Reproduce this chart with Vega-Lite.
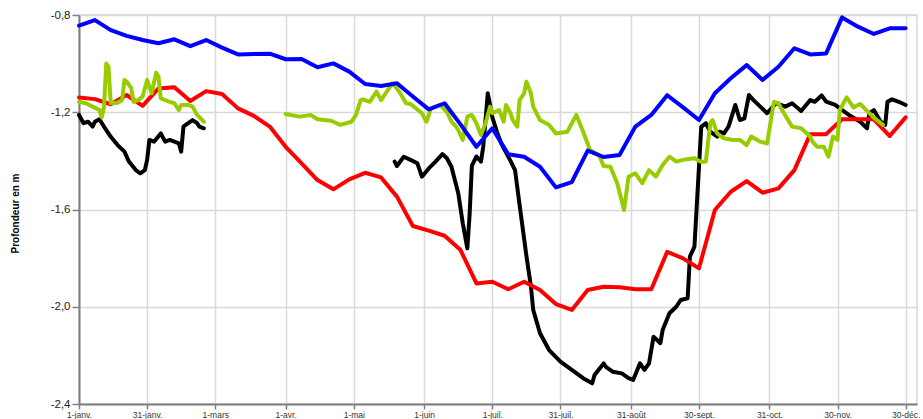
{
"$schema": "https://vega.github.io/schema/vega-lite/v6.json",
"width": 838, "height": 389,
"autosize": {"type": "none"},
"padding": {"left": 79, "top": 15, "right": 6, "bottom": 15},
"background": "white",
"config": {"view": {"stroke": "#d9d9d9", "strokeWidth": 1.5}, "font": "Liberation Sans"},
"data": {"values": [
{"s":"noir","date":"2020-01-01","v":-1.211},{"s":"noir","date":"2020-01-03","v":-1.245},{"s":"noir","date":"2020-01-05","v":-1.239},{"s":"noir","date":"2020-01-07","v":-1.259},{"s":"noir","date":"2020-01-08","v":-1.239},{"s":"noir","date":"2020-01-10","v":-1.229},{"s":"noir","date":"2020-01-12","v":-1.259},{"s":"noir","date":"2020-01-15","v":-1.301},{"s":"noir","date":"2020-01-18","v":-1.335},{"s":"noir","date":"2020-01-21","v":-1.362},{"s":"noir","date":"2020-01-23","v":-1.403},{"s":"noir","date":"2020-01-26","v":-1.438},{"s":"noir","date":"2020-01-28","v":-1.451},{"s":"noir","date":"2020-01-30","v":-1.438},{"s":"noir","date":"2020-01-31","v":-1.396},{"s":"noir","date":"2020-02-01","v":-1.314},{"s":"noir","date":"2020-02-03","v":-1.321},{"s":"noir","date":"2020-02-06","v":-1.287},{"s":"noir","date":"2020-02-08","v":-1.321},{"s":"noir","date":"2020-02-10","v":-1.314},{"s":"noir","date":"2020-02-14","v":-1.328},{"s":"noir","date":"2020-02-15","v":-1.362},{"s":"noir","date":"2020-02-16","v":-1.259},{"s":"noir","date":"2020-02-17","v":-1.252},{"s":"noir","date":"2020-02-20","v":-1.232},{"s":"noir","date":"2020-02-22","v":-1.245},{"s":"noir","date":"2020-02-23","v":-1.259},{"s":"noir","date":"2020-02-25","v":-1.266},
{"s":"noir","date":"2020-03-20","v":null},
{"s":"noir","date":"2020-05-19","v":-1.403},{"s":"noir","date":"2020-05-20","v":-1.421},{"s":"noir","date":"2020-05-23","v":-1.383},{"s":"noir","date":"2020-05-26","v":-1.396},{"s":"noir","date":"2020-05-29","v":-1.41},{"s":"noir","date":"2020-05-31","v":-1.465},{"s":"noir","date":"2020-06-03","v":-1.431},{"s":"noir","date":"2020-06-06","v":-1.403},{"s":"noir","date":"2020-06-09","v":-1.372},{"s":"noir","date":"2020-06-11","v":-1.389},{"s":"noir","date":"2020-06-13","v":-1.424},{"s":"noir","date":"2020-06-16","v":-1.533},{"s":"noir","date":"2020-06-18","v":-1.657},{"s":"noir","date":"2020-06-20","v":-1.76},{"s":"noir","date":"2020-06-21","v":-1.62},{"s":"noir","date":"2020-06-22","v":-1.42},{"s":"noir","date":"2020-06-24","v":-1.382},{"s":"noir","date":"2020-06-26","v":-1.403},{"s":"noir","date":"2020-06-27","v":-1.342},{"s":"noir","date":"2020-06-29","v":-1.122},{"s":"noir","date":"2020-06-30","v":-1.17},{"s":"noir","date":"2020-07-01","v":-1.22},{"s":"noir","date":"2020-07-03","v":-1.28},{"s":"noir","date":"2020-07-05","v":-1.33},{"s":"noir","date":"2020-07-09","v":-1.4},{"s":"noir","date":"2020-07-11","v":-1.438},{"s":"noir","date":"2020-07-13","v":-1.58},{"s":"noir","date":"2020-07-16","v":-1.79},{"s":"noir","date":"2020-07-18","v":-1.917},{"s":"noir","date":"2020-07-19","v":-2.013},{"s":"noir","date":"2020-07-22","v":-2.109},{"s":"noir","date":"2020-07-26","v":-2.178},{"s":"noir","date":"2020-07-31","v":-2.226},{"s":"noir","date":"2020-08-05","v":-2.26},{"s":"noir","date":"2020-08-10","v":-2.294},{"s":"noir","date":"2020-08-14","v":-2.315},{"s":"noir","date":"2020-08-15","v":-2.281},{"s":"noir","date":"2020-08-19","v":-2.233},{"s":"noir","date":"2020-08-20","v":-2.247},{"s":"noir","date":"2020-08-23","v":-2.267},{"s":"noir","date":"2020-08-27","v":-2.274},{"s":"noir","date":"2020-08-30","v":-2.294},{"s":"noir","date":"2020-09-01","v":-2.301},{"s":"noir","date":"2020-09-04","v":-2.233},{"s":"noir","date":"2020-09-06","v":-2.26},{"s":"noir","date":"2020-09-08","v":-2.233},{"s":"noir","date":"2020-09-10","v":-2.123},{"s":"noir","date":"2020-09-13","v":-2.15},{"s":"noir","date":"2020-09-14","v":-2.096},{"s":"noir","date":"2020-09-17","v":-2.027},{"s":"noir","date":"2020-09-20","v":-2.0},{"s":"noir","date":"2020-09-22","v":-1.972},{"s":"noir","date":"2020-09-25","v":-1.965},{"s":"noir","date":"2020-09-26","v":-1.794},{"s":"noir","date":"2020-09-28","v":-1.753},{"s":"noir","date":"2020-09-30","v":-1.424},{"s":"noir","date":"2020-10-01","v":-1.26},{"s":"noir","date":"2020-10-03","v":-1.245},{"s":"noir","date":"2020-10-05","v":-1.28},{"s":"noir","date":"2020-10-08","v":-1.3},{"s":"noir","date":"2020-10-09","v":-1.28},{"s":"noir","date":"2020-10-11","v":-1.287},{"s":"noir","date":"2020-10-13","v":-1.259},{"s":"noir","date":"2020-10-16","v":-1.17},{"s":"noir","date":"2020-10-18","v":-1.232},{"s":"noir","date":"2020-10-20","v":-1.225},{"s":"noir","date":"2020-10-22","v":-1.129},{"s":"noir","date":"2020-10-24","v":-1.15},{"s":"noir","date":"2020-10-27","v":-1.177},{"s":"noir","date":"2020-10-30","v":-1.204},{"s":"noir","date":"2020-11-03","v":-1.162},{"s":"noir","date":"2020-11-07","v":-1.177},{"s":"noir","date":"2020-11-10","v":-1.163},{"s":"noir","date":"2020-11-14","v":-1.195},{"s":"noir","date":"2020-11-18","v":-1.15},{"s":"noir","date":"2020-11-20","v":-1.157},{"s":"noir","date":"2020-11-23","v":-1.131},{"s":"noir","date":"2020-11-25","v":-1.156},{"s":"noir","date":"2020-11-29","v":-1.17},{"s":"noir","date":"2020-12-01","v":-1.184},{"s":"noir","date":"2020-12-05","v":-1.211},{"s":"noir","date":"2020-12-10","v":-1.239},{"s":"noir","date":"2020-12-13","v":-1.266},{"s":"noir","date":"2020-12-14","v":-1.204},{"s":"noir","date":"2020-12-16","v":-1.191},{"s":"noir","date":"2020-12-19","v":-1.239},{"s":"noir","date":"2020-12-21","v":-1.252},{"s":"noir","date":"2020-12-22","v":-1.157},{"s":"noir","date":"2020-12-24","v":-1.147},{"s":"noir","date":"2020-12-27","v":-1.157},{"s":"noir","date":"2020-12-30","v":-1.17},
{"s":"rouge","date":"2020-01-01","v":-1.139},{"s":"rouge","date":"2020-01-08","v":-1.146},{"s":"rouge","date":"2020-01-15","v":-1.167},{"s":"rouge","date":"2020-01-22","v":-1.129},{"s":"rouge","date":"2020-01-29","v":-1.174},{"s":"rouge","date":"2020-02-05","v":-1.102},{"s":"rouge","date":"2020-02-12","v":-1.097},{"s":"rouge","date":"2020-02-19","v":-1.154},{"s":"rouge","date":"2020-02-26","v":-1.113},{"s":"rouge","date":"2020-03-04","v":-1.125},{"s":"rouge","date":"2020-03-11","v":-1.184},{"s":"rouge","date":"2020-03-18","v":-1.215},{"s":"rouge","date":"2020-03-25","v":-1.259},{"s":"rouge","date":"2020-04-01","v":-1.342},{"s":"rouge","date":"2020-04-08","v":-1.41},{"s":"rouge","date":"2020-04-15","v":-1.479},{"s":"rouge","date":"2020-04-22","v":-1.517},{"s":"rouge","date":"2020-04-29","v":-1.476},{"s":"rouge","date":"2020-05-06","v":-1.449},{"s":"rouge","date":"2020-05-13","v":-1.468},{"s":"rouge","date":"2020-05-20","v":-1.547},{"s":"rouge","date":"2020-05-27","v":-1.668},{"s":"rouge","date":"2020-06-03","v":-1.687},{"s":"rouge","date":"2020-06-10","v":-1.708},{"s":"rouge","date":"2020-06-17","v":-1.767},{"s":"rouge","date":"2020-06-24","v":-1.904},{"s":"rouge","date":"2020-07-01","v":-1.897},{"s":"rouge","date":"2020-07-08","v":-1.928},{"s":"rouge","date":"2020-07-15","v":-1.897},{"s":"rouge","date":"2020-07-22","v":-1.931},{"s":"rouge","date":"2020-07-29","v":-1.989},{"s":"rouge","date":"2020-08-05","v":-2.013},{"s":"rouge","date":"2020-08-12","v":-1.931},{"s":"rouge","date":"2020-08-19","v":-1.918},{"s":"rouge","date":"2020-08-26","v":-1.92},{"s":"rouge","date":"2020-09-02","v":-1.928},{"s":"rouge","date":"2020-09-09","v":-1.928},{"s":"rouge","date":"2020-09-16","v":-1.774},{"s":"rouge","date":"2020-09-23","v":-1.801},{"s":"rouge","date":"2020-09-30","v":-1.842},{"s":"rouge","date":"2020-10-07","v":-1.602},{"s":"rouge","date":"2020-10-14","v":-1.527},{"s":"rouge","date":"2020-10-21","v":-1.483},{"s":"rouge","date":"2020-10-28","v":-1.531},{"s":"rouge","date":"2020-11-04","v":-1.513},{"s":"rouge","date":"2020-11-11","v":-1.438},{"s":"rouge","date":"2020-11-18","v":-1.29},{"s":"rouge","date":"2020-11-25","v":-1.29},{"s":"rouge","date":"2020-12-02","v":-1.229},{"s":"rouge","date":"2020-12-09","v":-1.229},{"s":"rouge","date":"2020-12-16","v":-1.229},{"s":"rouge","date":"2020-12-23","v":-1.298},{"s":"rouge","date":"2020-12-30","v":-1.221},
{"s":"vert","date":"2020-01-01","v":-1.157},{"s":"vert","date":"2020-01-04","v":-1.163},{"s":"vert","date":"2020-01-07","v":-1.177},{"s":"vert","date":"2020-01-10","v":-1.191},{"s":"vert","date":"2020-01-11","v":-1.221},{"s":"vert","date":"2020-01-12","v":-1.18},{"s":"vert","date":"2020-01-13","v":-1.0},{"s":"vert","date":"2020-01-14","v":-1.013},{"s":"vert","date":"2020-01-15","v":-1.163},{"s":"vert","date":"2020-01-18","v":-1.161},{"s":"vert","date":"2020-01-20","v":-1.15},{"s":"vert","date":"2020-01-21","v":-1.067},{"s":"vert","date":"2020-01-22","v":-1.074},{"s":"vert","date":"2020-01-24","v":-1.101},{"s":"vert","date":"2020-01-25","v":-1.157},{"s":"vert","date":"2020-01-27","v":-1.15},{"s":"vert","date":"2020-01-29","v":-1.136},{"s":"vert","date":"2020-01-31","v":-1.067},{"s":"vert","date":"2020-02-01","v":-1.095},{"s":"vert","date":"2020-02-02","v":-1.122},{"s":"vert","date":"2020-02-04","v":-1.037},{"s":"vert","date":"2020-02-05","v":-1.054},{"s":"vert","date":"2020-02-06","v":-1.143},{"s":"vert","date":"2020-02-10","v":-1.157},{"s":"vert","date":"2020-02-12","v":-1.163},{"s":"vert","date":"2020-02-14","v":-1.191},{"s":"vert","date":"2020-02-15","v":-1.17},{"s":"vert","date":"2020-02-18","v":-1.17},{"s":"vert","date":"2020-02-20","v":-1.177},{"s":"vert","date":"2020-02-22","v":-1.211},{"s":"vert","date":"2020-02-25","v":-1.239},
{"s":"vert","date":"2020-03-15","v":null},
{"s":"vert","date":"2020-04-01","v":-1.207},{"s":"vert","date":"2020-04-07","v":-1.218},{"s":"vert","date":"2020-04-12","v":-1.211},{"s":"vert","date":"2020-04-15","v":-1.229},{"s":"vert","date":"2020-04-21","v":-1.235},{"s":"vert","date":"2020-04-25","v":-1.252},{"s":"vert","date":"2020-04-30","v":-1.239},{"s":"vert","date":"2020-05-02","v":-1.211},{"s":"vert","date":"2020-05-04","v":-1.15},{"s":"vert","date":"2020-05-05","v":-1.147},{"s":"vert","date":"2020-05-08","v":-1.157},{"s":"vert","date":"2020-05-11","v":-1.115},{"s":"vert","date":"2020-05-13","v":-1.15},{"s":"vert","date":"2020-05-15","v":-1.122},{"s":"vert","date":"2020-05-18","v":-1.081},{"s":"vert","date":"2020-05-21","v":-1.115},{"s":"vert","date":"2020-05-24","v":-1.163},{"s":"vert","date":"2020-05-26","v":-1.166},{"s":"vert","date":"2020-05-31","v":-1.204},{"s":"vert","date":"2020-06-02","v":-1.239},{"s":"vert","date":"2020-06-04","v":-1.184},{"s":"vert","date":"2020-06-08","v":-1.17},{"s":"vert","date":"2020-06-11","v":-1.199},{"s":"vert","date":"2020-06-13","v":-1.239},{"s":"vert","date":"2020-06-15","v":-1.259},{"s":"vert","date":"2020-06-16","v":-1.273},{"s":"vert","date":"2020-06-18","v":-1.314},{"s":"vert","date":"2020-06-20","v":-1.218},{"s":"vert","date":"2020-06-22","v":-1.211},{"s":"vert","date":"2020-06-24","v":-1.245},{"s":"vert","date":"2020-06-26","v":-1.294},{"s":"vert","date":"2020-06-28","v":-1.245},{"s":"vert","date":"2020-06-30","v":-1.177},{"s":"vert","date":"2020-07-01","v":-1.204},{"s":"vert","date":"2020-07-04","v":-1.191},{"s":"vert","date":"2020-07-06","v":-1.239},{"s":"vert","date":"2020-07-07","v":-1.17},{"s":"vert","date":"2020-07-09","v":-1.204},{"s":"vert","date":"2020-07-10","v":-1.232},{"s":"vert","date":"2020-07-12","v":-1.259},{"s":"vert","date":"2020-07-13","v":-1.15},{"s":"vert","date":"2020-07-15","v":-1.122},{"s":"vert","date":"2020-07-16","v":-1.074},{"s":"vert","date":"2020-07-18","v":-1.122},{"s":"vert","date":"2020-07-19","v":-1.177},{"s":"vert","date":"2020-07-22","v":-1.232},{"s":"vert","date":"2020-07-26","v":-1.252},{"s":"vert","date":"2020-07-29","v":-1.287},{"s":"vert","date":"2020-08-03","v":-1.28},{"s":"vert","date":"2020-08-07","v":-1.211},{"s":"vert","date":"2020-08-10","v":-1.28},{"s":"vert","date":"2020-08-13","v":-1.355},{"s":"vert","date":"2020-08-17","v":-1.376},{"s":"vert","date":"2020-08-19","v":-1.421},{"s":"vert","date":"2020-08-22","v":-1.424},{"s":"vert","date":"2020-08-25","v":-1.492},{"s":"vert","date":"2020-08-28","v":-1.602},{"s":"vert","date":"2020-08-30","v":-1.465},{"s":"vert","date":"2020-09-02","v":-1.451},{"s":"vert","date":"2020-09-05","v":-1.492},{"s":"vert","date":"2020-09-08","v":-1.438},{"s":"vert","date":"2020-09-11","v":-1.465},{"s":"vert","date":"2020-09-14","v":-1.417},{"s":"vert","date":"2020-09-17","v":-1.383},{"s":"vert","date":"2020-09-20","v":-1.403},{"s":"vert","date":"2020-09-24","v":-1.394},{"s":"vert","date":"2020-09-28","v":-1.389},{"s":"vert","date":"2020-10-01","v":-1.405},{"s":"vert","date":"2020-10-03","v":-1.403},{"s":"vert","date":"2020-10-05","v":-1.245},{"s":"vert","date":"2020-10-06","v":-1.232},{"s":"vert","date":"2020-10-08","v":-1.287},{"s":"vert","date":"2020-10-11","v":-1.307},{"s":"vert","date":"2020-10-15","v":-1.314},{"s":"vert","date":"2020-10-18","v":-1.314},{"s":"vert","date":"2020-10-21","v":-1.335},{"s":"vert","date":"2020-10-23","v":-1.3},{"s":"vert","date":"2020-10-27","v":-1.321},{"s":"vert","date":"2020-10-30","v":-1.328},{"s":"vert","date":"2020-11-02","v":-1.157},{"s":"vert","date":"2020-11-04","v":-1.163},{"s":"vert","date":"2020-11-06","v":-1.198},{"s":"vert","date":"2020-11-10","v":-1.259},{"s":"vert","date":"2020-11-14","v":-1.266},{"s":"vert","date":"2020-11-18","v":-1.3},{"s":"vert","date":"2020-11-19","v":-1.321},{"s":"vert","date":"2020-11-21","v":-1.342},{"s":"vert","date":"2020-11-24","v":-1.342},{"s":"vert","date":"2020-11-26","v":-1.383},{"s":"vert","date":"2020-11-28","v":-1.3},{"s":"vert","date":"2020-11-30","v":-1.314},{"s":"vert","date":"2020-12-01","v":-1.191},{"s":"vert","date":"2020-12-04","v":-1.139},{"s":"vert","date":"2020-12-07","v":-1.18},{"s":"vert","date":"2020-12-10","v":-1.166},{"s":"vert","date":"2020-12-13","v":-1.195},{"s":"vert","date":"2020-12-16","v":-1.222},{"s":"vert","date":"2020-12-20","v":-1.252},
{"s":"bleu","date":"2020-01-01","v":-0.844},{"s":"bleu","date":"2020-01-08","v":-0.821},{"s":"bleu","date":"2020-01-15","v":-0.862},{"s":"bleu","date":"2020-01-22","v":-0.886},{"s":"bleu","date":"2020-01-29","v":-0.903},{"s":"bleu","date":"2020-02-05","v":-0.916},{"s":"bleu","date":"2020-02-12","v":-0.9},{"s":"bleu","date":"2020-02-19","v":-0.928},{"s":"bleu","date":"2020-02-26","v":-0.903},{"s":"bleu","date":"2020-03-04","v":-0.934},{"s":"bleu","date":"2020-03-11","v":-0.962},{"s":"bleu","date":"2020-03-18","v":-0.96},{"s":"bleu","date":"2020-03-25","v":-0.959},{"s":"bleu","date":"2020-04-01","v":-0.982},{"s":"bleu","date":"2020-04-08","v":-0.981},{"s":"bleu","date":"2020-04-15","v":-1.015},{"s":"bleu","date":"2020-04-22","v":-0.999},{"s":"bleu","date":"2020-04-29","v":-1.033},{"s":"bleu","date":"2020-05-06","v":-1.084},{"s":"bleu","date":"2020-05-13","v":-1.092},{"s":"bleu","date":"2020-05-20","v":-1.081},{"s":"bleu","date":"2020-05-27","v":-1.135},{"s":"bleu","date":"2020-06-03","v":-1.188},{"s":"bleu","date":"2020-06-10","v":-1.163},{"s":"bleu","date":"2020-06-17","v":-1.25},{"s":"bleu","date":"2020-06-24","v":-1.342},{"s":"bleu","date":"2020-07-01","v":-1.266},{"s":"bleu","date":"2020-07-08","v":-1.373},{"s":"bleu","date":"2020-07-15","v":-1.383},{"s":"bleu","date":"2020-07-22","v":-1.424},{"s":"bleu","date":"2020-07-29","v":-1.509},{"s":"bleu","date":"2020-08-05","v":-1.487},{"s":"bleu","date":"2020-08-12","v":-1.358},{"s":"bleu","date":"2020-08-19","v":-1.384},{"s":"bleu","date":"2020-08-26","v":-1.376},{"s":"bleu","date":"2020-09-02","v":-1.259},{"s":"bleu","date":"2020-09-09","v":-1.211},{"s":"bleu","date":"2020-09-16","v":-1.13},{"s":"bleu","date":"2020-09-23","v":-1.18},{"s":"bleu","date":"2020-09-30","v":-1.232},{"s":"bleu","date":"2020-10-07","v":-1.122},{"s":"bleu","date":"2020-10-14","v":-1.06},{"s":"bleu","date":"2020-10-21","v":-1.006},{"s":"bleu","date":"2020-10-28","v":-1.067},{"s":"bleu","date":"2020-11-04","v":-1.013},{"s":"bleu","date":"2020-11-11","v":-0.937},{"s":"bleu","date":"2020-11-18","v":-0.962},{"s":"bleu","date":"2020-11-25","v":-0.958},{"s":"bleu","date":"2020-12-02","v":-0.81},{"s":"bleu","date":"2020-12-09","v":-0.848},{"s":"bleu","date":"2020-12-16","v":-0.878},{"s":"bleu","date":"2020-12-23","v":-0.855},{"s":"bleu","date":"2020-12-30","v":-0.855}
]},
"mark": {"type": "line", "strokeWidth": 4, "strokeJoin": "round", "strokeCap": "round"},
"encoding": {
 "x": {"field": "date", "type": "temporal",
  "scale": {"type": "utc", "domain": [{"year": 2020, "month": 1, "date": 1, "utc": true}, {"year": 2021, "month": 1, "date": 4, "utc": true}]},
  "axis": {"title": null,
   "values": [{"year":2020,"month":1,"date":1,"utc":true},{"year":2020,"month":1,"date":31,"utc":true},{"year":2020,"month":3,"date":1,"utc":true},{"year":2020,"month":4,"date":1,"utc":true},{"year":2020,"month":5,"date":1,"utc":true},{"year":2020,"month":6,"date":1,"utc":true},{"year":2020,"month":7,"date":1,"utc":true},{"year":2020,"month":7,"date":31,"utc":true},{"year":2020,"month":8,"date":31,"utc":true},{"year":2020,"month":9,"date":30,"utc":true},{"year":2020,"month":10,"date":31,"utc":true},{"year":2020,"month":11,"date":30,"utc":true},{"year":2020,"month":12,"date":30,"utc":true}],
   "labelExpr": "utcdate(datum.value) + '-' + ['janv.','févr.','mars','avr.','mai','juin','juil.','août','sept.','oct.','nov.','déc.'][utcmonth(datum.value)]",
   "labelFontSize": 8.5, "labelColor": "#333333", "labelPadding": 1, "labelFlush": false, "labelOverlap": false,
   "tickSize": 5, "tickColor": "#808080", "tickWidth": 1.5,
   "domainColor": "#808080", "domainWidth": 2,
   "gridColor": "#d9d9d9", "gridWidth": 1.5}},
 "y": {"field": "v", "type": "quantitative",
  "scale": {"domain": [-2.4, -0.8], "nice": false, "zero": false},
  "axis": {"title": "Profondeur en m", "values": [-2.4, -2.0, -1.6, -1.2, -0.8],
   "labelExpr": "replace(replace(format(datum.value, '.1f'), '.', ','), '−', '-')",
   "labelFontSize": 11.5, "labelColor": "#222222", "labelPadding": 2,
   "tickSize": 7, "tickColor": "#808080", "tickWidth": 1.5,
   "domainColor": "#808080", "domainWidth": 2,
   "gridColor": "#d9d9d9", "gridWidth": 1.5,
   "titleFont": "Liberation Sans", "titleFontWeight": "bold", "titleFontSize": 10, "titleColor": "#000000",
   "titleAngle": 270, "titleX": -64, "titleY": 198, "titleAlign": "center", "titleBaseline": "middle"}},
 "color": {"field": "s", "type": "nominal",
  "scale": {"domain": ["noir", "rouge", "vert", "bleu"], "range": ["#000000", "#ff0000", "#99cc00", "#0000ff"]},
  "legend": null}
}
}
